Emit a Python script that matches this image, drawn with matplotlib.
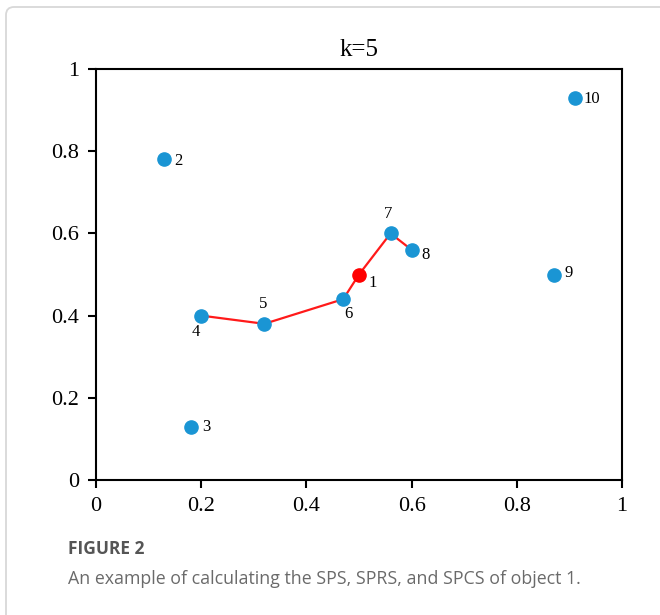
import numpy as np
import matplotlib
matplotlib.use("Agg")
import matplotlib.pyplot as plt
from matplotlib.patches import PathPatch
from matplotlib.path import Path

# data points (object id, x, y)
ids = ['1', '2', '3', '4', '5', '6', '7', '8', '9', '10']
xs = [0.50, 0.13, 0.18, 0.20, 0.32, 0.47, 0.56, 0.60, 0.87, 0.91]
ys = [0.50, 0.78, 0.13, 0.40, 0.38, 0.44, 0.60, 0.56, 0.50, 0.93]
# path through the neighbours of object 1
chain = ['4', '5', '6', '1', '7', '8']

# label offsets in points
offs = {'1': (10, -6), '2': (10, -1), '3': (11, 0), '4': (-4, -12), '5': (-1, 14),
        '6': (4, -11), '7': (-2, 14), '8': (10, -4), '9': (11, 1), '10': (12, -1)}

fig = plt.figure(figsize=(6.6, 6.15), dpi=100)

# outer frame: only top and left edges are visible, rounded corner
fx, fy, r = 6, 7, 8
verts = [(fx, 615), (fx, fy + r), (fx, fy), (fx + r, fy), (660, fy)]
codes = [Path.MOVETO, Path.LINETO, Path.CURVE3, Path.CURVE3, Path.LINETO]
verts = [(vx / 660, 1 - vy / 615) for vx, vy in verts]
fig.patches.append(PathPatch(Path(verts, codes), transform=fig.transFigure,
                             fill=False, edgecolor='#d8d8d8', linewidth=1.3))

ax = fig.add_axes([96/660, 135/615, 526/660, 411/615])
serif = 'Liberation Serif'

cx = [xs[ids.index(c)] for c in chain]
cy = [ys[ids.index(c)] for c in chain]
ax.plot(cx, cy, color='#ff1a1a', linewidth=1.6, zorder=2)

for i, lab in enumerate(ids):
    col = '#ff0000' if lab == '1' else '#1a95d4'
    ax.plot(xs[i], ys[i], 'o', color=col, markersize=9.5, zorder=3)
    dx, dy = offs[lab]
    ax.annotate(lab, (xs[i], ys[i]), xytext=(dx, dy), textcoords='offset points',
                ha='center', va='center', fontsize=12, family=serif)

ax.set_xlim(0, 1)
ax.set_ylim(0, 1)
ax.set_xticks([0, 0.2, 0.4, 0.6, 0.8, 1])
ax.set_yticks([0, 0.2, 0.4, 0.6, 0.8, 1])
ax.set_xticklabels(['0', '0.2', '0.4', '0.6', '0.8', '1'])
ax.set_yticklabels(['0', '0.2', '0.4', '0.6', '0.8', '1'])
for t in ax.get_xticklabels() + ax.get_yticklabels():
    t.set_family(serif)
    t.set_fontsize(16)
ax.tick_params(direction='out', length=6, width=1.5, pad=6)
for s in ax.spines.values():
    s.set_linewidth(1.5)
ax.set_title('k=5', family=serif, fontsize=18, pad=9)

fig.text(68/660, 1 - 549/615, 'FIGURE 2', family='Open Sans', fontsize=12.5,
         fontweight='bold', color='#555555', va='center')
fig.text(68/660, 1 - 579/615, 'An example of calculating the SPS, SPRS, and SPCS of object 1.',
         family='Open Sans', fontsize=12.8, color='#6a6a6a', va='center')

fig.savefig('out.png', dpi=100)
